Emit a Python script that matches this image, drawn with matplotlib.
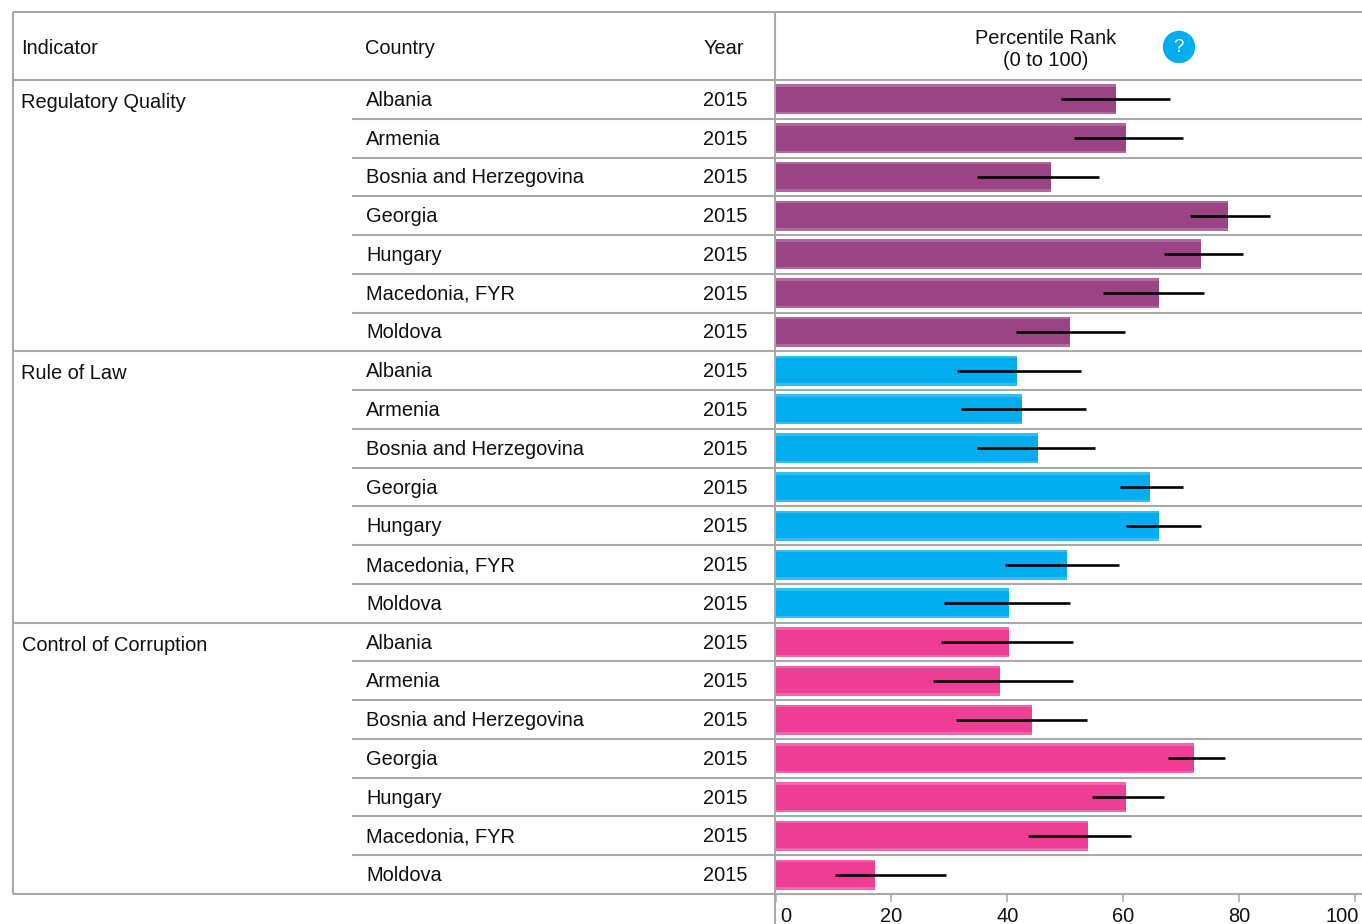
import matplotlib
matplotlib.use('Agg')
import matplotlib.pyplot as plt
from matplotlib.patches import Ellipse
from matplotlib.transforms import ScaledTranslation

plt.rcParams['font.family'] = ['Liberation Sans', 'DejaVu Sans']

indicators = ['Regulatory Quality', 'Rule of Law', 'Control of Corruption']
countries = ['Albania', 'Armenia', 'Bosnia and Herzegovina', 'Georgia', 'Hungary', 'Macedonia, FYR', 'Moldova']
year = '2015'
bar_colors = ['#9b4485', '#00aeef', '#ef3e96']

regulatory = [58.7, 60.4, 47.5, 78.0, 73.4, 66.1, 50.8]
regulatory_low = [49.2, 51.5, 34.7, 71.6, 67.0, 56.6, 41.5]
regulatory_high = [68.0, 70.4, 55.8, 85.3, 80.6, 73.9, 60.3]

rule_of_law = [41.6, 42.5, 45.3, 64.6, 66.1, 50.3, 40.3]
rule_low = [31.3, 32.0, 34.7, 59.4, 60.4, 39.6, 29.1]
rule_high = [52.8, 53.5, 55.1, 70.4, 73.4, 59.2, 50.8]

corruption = [40.3, 38.7, 44.2, 72.3, 60.4, 53.9, 17.2]
corruption_low = [28.5, 27.2, 31.1, 67.7, 54.6, 43.5, 10.3]
corruption_high = [51.3, 51.3, 53.7, 77.5, 67.0, 61.3, 29.4]

values = [regulatory, rule_of_law, corruption]
lows = [regulatory_low, rule_low, corruption_low]
highs = [regulatory_high, rule_high, corruption_high]

W, H = 1362, 924
TOP, HEAD, BOTTOM = 12, 80, 894
ROW = (BOTTOM - HEAD) / 21
GRID = '#a9a9a9'
TEXT = '#111111'
FS = 14.4

fig = plt.figure(figsize=(W / 100, H / 100), dpi=100)

# table lines and text live on a full size axes in pixels
bg = fig.add_axes([0, 0, 1, 1])
bg.set_xlim(0, W)
bg.set_ylim(H, 0)
bg.axis('off')

lw = 1.5
bg.hlines([TOP, HEAD], 13, W, color=GRID, lw=lw)
bg.vlines(13, TOP, BOTTOM, color=GRID, lw=lw)
bg.vlines(775, TOP, H, color=GRID, lw=lw)
for i in range(1, 22):
    y = HEAD + i * ROW
    if i % 7 == 0:
        bg.hlines(y, 13, W, color=GRID, lw=lw)
    else:
        bg.hlines(y, 352, W, color=GRID, lw=lw)

bg.text(21, 49, 'Indicator', fontsize=FS, color=TEXT, va='center')
bg.text(365, 49, 'Country', fontsize=FS, color=TEXT, va='center')
bg.text(704, 49, 'Year', fontsize=FS, color=TEXT, va='center')
bg.text(1046, 38, 'Percentile Rank', fontsize=FS, color=TEXT, va='center', ha='center')
bg.text(1046, 60, '(0 to 100)', fontsize=FS, color=TEXT, va='center', ha='center')
bg.add_patch(Ellipse((1179, 47), 31, 31, color='#00aeef'))
bg.text(1178, 47, '?', fontsize=FS - 1, color='white', va='center', ha='center')

for g, name in enumerate(indicators):
    bg.text(21 + (g == 2), HEAD + (g * 7 + 0.5) * ROW + 3, name, fontsize=FS, color=TEXT, va='center')
    for c, country in enumerate(countries):
        y = HEAD + (g * 7 + c + 0.5) * ROW + 1
        bg.text(366, y, country, fontsize=FS, color=TEXT, va='center')
        bg.text(703, y, year, fontsize=FS, color=TEXT, va='center')

# bars on their own axes, 0-100 across
ax = fig.add_axes([775.5 / W, (H - BOTTOM) / H, (1355 - 775.5) / W, (BOTTOM - HEAD) / H])
ax.patch.set_alpha(0)
ax.set_xlim(0, 100)
ax.set_ylim(21, 0)
for s in ax.spines.values():
    s.set_visible(False)

for g in range(3):
    ys = [g * 7 + c + 0.5 for c in range(7)]
    ax.barh(ys, values[g], height=30 / ROW, color=bar_colors[g], alpha=0.8, lw=0)
    ax.barh(ys, values[g], height=25 / ROW, color=bar_colors[g], lw=0)
    ax.hlines(ys, lows[g], highs[g], color='black', lw=1.9)

ax.set_yticks([])
ax.set_xticks([0, 20, 40, 60, 80, 100])
ax.tick_params(axis='x', length=6, width=1.1, color=GRID, labelsize=FS, labelcolor=TEXT, pad=3.5)
shifts = [10, 0, 0, 0, 0, -13]
for lab, dx in zip(ax.get_xticklabels(), shifts):
    lab.set_transform(lab.get_transform() + ScaledTranslation(dx / 100, 0, fig.dpi_scale_trans))

fig.savefig('out.png', dpi=100)
